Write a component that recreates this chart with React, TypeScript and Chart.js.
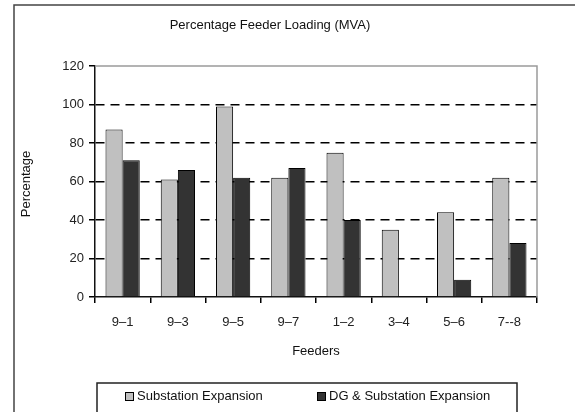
import React, { useEffect, useRef } from "react";
import { Chart, registerables } from "chart.js";

Chart.register(...registerables);

const categories = ["9–1", "9–3", "9–5", "9–7", "1–2", "3–4", "5–6", "7--8"];
const substationExpansion = [87, 61, 99, 62, 75, 35, 44, 62];
const dgSubstationExpansion = [71, 66, 62, 67, 40, 0, 9, 28];
const yTickValues = [0, 20, 40, 60, 80, 100, 120];
const seriesNames = ["Substation Expansion", "DG & Substation Expansion"];
const chartTitle = "Percentage Feeder Loading (MVA)";
const xTitle = "Feeders";
const yTitle = "Percentage";

const FONT = "'Liberation Sans', Arial, sans-serif";
const GRAY = "#c0c0c0";
const DARK = "#333333";

const decorPlugin = {
  id: "decor",
  afterDraw(chart: any) {
    const ctx = chart.ctx as CanvasRenderingContext2D;
    const a = chart.chartArea;
    ctx.save();
    // outer frame
    ctx.strokeStyle = "#444";
    ctx.lineWidth = 1.5;
    ctx.beginPath();
    ctx.moveTo(14, 420);
    ctx.lineTo(14, 5);
    ctx.lineTo(580, 5);
    ctx.stroke();
    // plot top/right border
    ctx.strokeStyle = "#9a9a9a";
    ctx.lineWidth = 1.5;
    ctx.beginPath();
    ctx.moveTo(a.left, a.top);
    ctx.lineTo(a.right, a.top);
    ctx.lineTo(a.right, a.bottom);
    ctx.stroke();
    // title
    ctx.fillStyle = "#111";
    ctx.font = `13px ${FONT}`;
    ctx.textBaseline = "middle";
    ctx.textAlign = "center";
    ctx.fillText(chartTitle, 270, 25);
    // x title
    ctx.fillText(xTitle, (a.left + a.right) / 2, 351);
    // y title
    ctx.save();
    ctx.translate(26, 184);
    ctx.rotate(-Math.PI / 2);
    ctx.fillText(yTitle, 0, 0);
    ctx.restore();
    // legend box
    ctx.strokeStyle = "#222";
    ctx.lineWidth = 1.5;
    ctx.strokeRect(97, 383, 420, 40);
    const items = [
      { x: 125, color: GRAY, label: seriesNames[0] },
      { x: 317, color: DARK, label: seriesNames[1] },
    ];
    ctx.textAlign = "left";
    for (const it of items) {
      ctx.fillStyle = it.color;
      ctx.fillRect(it.x, 392, 8, 8);
      ctx.strokeStyle = "#000";
      ctx.lineWidth = 1;
      ctx.strokeRect(it.x + 0.5, 392.5, 8, 8);
      ctx.fillStyle = "#111";
      ctx.fillText(it.label, it.x + 12, 396);
    }
    ctx.restore();
  },
};

export default function App() {
  const ref = useRef<HTMLCanvasElement | null>(null);
  useEffect(() => {
    if (!ref.current) return;
    const chart = new Chart(ref.current, {
      type: "bar",
      data: {
        labels: categories,
        datasets: [
          {
            label: seriesNames[0],
            data: substationExpansion,
            backgroundColor: GRAY,
            borderColor: "#000",
            borderWidth: 1,
            categoryPercentage: 0.62,
            barPercentage: 1,
          },
          {
            label: seriesNames[1],
            data: dgSubstationExpansion,
            backgroundColor: DARK,
            borderColor: "#000",
            borderWidth: 1,
            categoryPercentage: 0.62,
            barPercentage: 1,
          },
        ],
      },
      options: {
        responsive: false,
        animation: false,
        layout: { padding: { top: 66, right: 38, left: 0, bottom: 0 } },
        plugins: {
          legend: { display: false },
          title: { display: false },
          tooltip: { enabled: false },
        },
        scales: {
          x: {
            afterFit(scale: any) {
              scale.height = 115;
            },
            grid: {
              offset: true,
              drawOnChartArea: false,
              drawTicks: true,
              tickLength: 6,
              color: "#000",
              tickColor: "#000",
              lineWidth: 1.5,
            },
            border: { display: true, color: "#111", width: 1.5 },
            ticks: {
              padding: 12,
              color: "#222",
              font: { family: FONT, size: 13 },
              maxRotation: 0,
              autoSkip: false,
            },
          },
          y: {
            min: 0,
            max: 120,
            afterFit(scale: any) {
              scale.width = 95;
            },
            afterBuildTicks(scale: any) {
              scale.ticks = yTickValues.map((v) => ({ value: v }));
            },
            grid: {
              drawTicks: true,
              tickLength: 6,
              lineWidth: 1.5,
              color: (c: any) =>
                c.tick && (c.tick.value === 0 || c.tick.value === 120)
                  ? "rgba(0,0,0,0)"
                  : "#000",
              tickColor: "#000",
              tickBorderDash: [],
            },
            border: { display: true, color: "#111", width: 1.5, dash: [9, 6] },
            ticks: {
              padding: 5,
              color: "#222",
              font: { family: FONT, size: 13 },
            },
          },
        },
      },
      plugins: [decorPlugin],
    } as any);
    return () => chart.destroy();
  }, []);
  return (
    <div style={{ position: "absolute", left: 0, top: 0, width: 575, height: 412, background: "#fff" }}>
      <canvas ref={ref} width={575} height={412} style={{ display: "block", width: 575, height: 412 }} />
    </div>
  );
}
